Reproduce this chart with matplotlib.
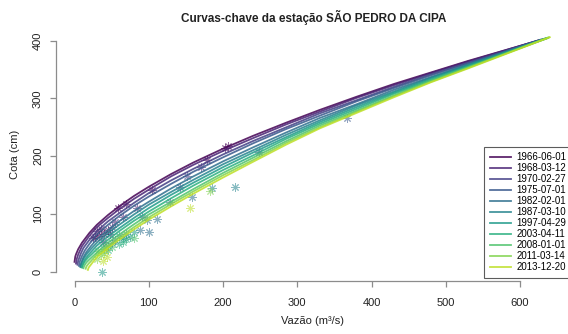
import numpy as np
import matplotlib
matplotlib.use('Agg')
import matplotlib.pyplot as plt

plt.rcParams['font.family'] = ['Liberation Sans', 'DejaVu Sans']

# Rating curve dates (legend)
dates = ['1966-06-01', '1968-03-12', '1970-02-27', '1975-07-01', '1982-02-01',
         '1987-03-10', '1997-04-29', '2003-04-11', '2008-01-01', '2011-03-14',
         '2013-12-20']

# Curves: low-flow part (each curve starts elsewhere)
low_q = [
    [0, 1, 2, 5, 10, 20],
    [2, 3, 5, 10, 20],
    [4, 5, 8, 12, 20],
    [6, 7, 10, 14, 20],
    [8, 9, 12, 16, 22],
    [8, 9, 12, 16, 22],
    [10, 11, 14, 18, 23],
    [10, 11, 14, 18, 23],
    [12, 13, 16, 20, 25],
    [15, 16, 19, 22, 26],
    [18, 19, 22, 25, 27],
]
low_h = [
    [17, 26, 30, 39, 50, 67],
    [14, 22, 30, 44, 62],
    [12, 19, 30, 41, 55],
    [10, 17, 27, 37, 48],
    [9, 15, 25, 34, 44],
    [8, 13, 22, 30, 39],
    [8, 13, 21, 28, 35],
    [7, 11, 18, 24, 30],
    [6, 10, 16, 21, 27],
    [5, 9, 14, 18, 24],
    [3, 7, 12, 17, 20],
]
# common discharge grid (m3/s) and stage (cm) of each curve on it
grid_q = [30, 45, 60, 80, 100, 130, 160, 200, 240, 285, 330, 380, 430, 480, 530]
grid_h = [
    [81, 98, 113, 131, 147, 169, 189, 213, 235, 258, 280, 303, 325, 345, 365],
    [77, 93, 108, 126, 142, 165, 185, 209, 231, 255, 277, 301, 323, 344, 364],
    [70, 87, 101, 119, 136, 158, 178, 203, 226, 250, 274, 297, 320, 342, 362],
    [64, 81, 96, 114, 130, 152, 173, 198, 222, 247, 270, 295, 318, 340, 361],
    [56, 72, 87, 105, 121, 144, 165, 191, 215, 241, 266, 290, 315, 337, 359],
    [50, 67, 81, 99, 116, 138, 159, 186, 210, 237, 262, 288, 312, 336, 358],
    [45, 61, 75, 93, 110, 133, 154, 181, 206, 233, 259, 285, 310, 334, 357],
    [39, 55, 70, 88, 104, 127, 149, 176, 201, 230, 256, 282, 308, 332, 355],
    [33, 50, 64, 82, 99, 121, 143, 171, 197, 226, 253, 279, 305, 331, 354],
    [29, 45, 59, 77, 94, 117, 139, 167, 193, 223, 250, 277, 304, 329, 353],
    [25, 41, 55, 73, 90, 113, 135, 163, 190, 220, 248, 275, 302, 328, 352],
]
end_q = [624, 626, 628, 630, 632, 634, 636, 637, 638, 639, 640]
end_h = [400, 401, 402, 402, 403, 404, 404, 405, 405, 406, 406]

# Gaugings (measured points), grouped by curve
obs_q = [
    [203, 207, 178, 104, 59, 70, 30, 35, 40, 45, 28, 25, 33],
    [171, 84, 50, 55, 38, 48, 65],
    [151, 142, 248],
    [367, 129, 91],
    [158, 97, 100, 88, 111, 50, 55, 45],
    [185, 216, 60, 65, 70, 40],
    [37, 75, 80],
    [60, 65, 70, 45],
    [50, 80],
    [183, 30, 35, 40, 32],
    [156, 44, 38, 42],
]
obs_h = [
    [214, 217, 194, 142, 110, 118, 70, 74, 66, 72, 60, 58, 62],
    [182, 110, 78, 86, 52, 65, 95],
    [165, 147, 208],
    [266, 121, 95],
    [130, 90, 69, 72, 92, 50, 55, 45],
    [145, 147, 62, 58, 65, 40],
    [0, 60, 68],
    [48, 52, 56, 38],
    [42, 58],
    [139, 22, 28, 33, 35],
    [110, 26, 18, 40],
]

colors = plt.cm.viridis(np.linspace(0, 0.9, len(dates)))

fig = plt.figure(figsize=(5.68, 3.34), dpi=100)
ax = fig.add_axes([55.5 / 568, 1 - 281 / 334, 513.3 / 568, 253 / 334])

for i, d in enumerate(dates):
    ax.plot(obs_q[i], obs_h[i], linestyle='none', marker=(8, 2, 0),
            markersize=6, markeredgewidth=0.7, color=colors[i], alpha=0.55)
for i, d in enumerate(dates):
    q = low_q[i] + grid_q + [end_q[i]]
    h = low_h[i] + grid_h[i] + [end_h[i]]
    ax.plot(q, h, color=colors[i], lw=1.3, alpha=0.85, label=d,
            solid_joinstyle='round')

ax.set_xlim(-25.6, 665.6)
ax.set_ylim(-16.2, 422)
ax.set_xticks(np.arange(0, 700, 100))
ax.set_yticks(np.arange(0, 500, 100))
for s in ['top', 'right']:
    ax.spines[s].set_visible(False)
ax.spines['bottom'].set_bounds(0, 600)
ax.spines['left'].set_bounds(0, 400)
for s in ['bottom', 'left']:
    ax.spines[s].set_color('#8c8c8c')
    ax.spines[s].set_linewidth(0.9)
ax.tick_params(direction='out', length=4, width=0.9, color='#8c8c8c',
               labelsize=8, labelcolor='#222222', pad=8)
ax.tick_params(axis='y', labelrotation=90, pad=5)
for lab in ax.get_yticklabels():
    lab.set_va('center')

ax.set_xlabel('Vazão (m³/s)', fontsize=8, color='#222222', labelpad=6)
ax.set_ylabel('Cota (cm)', fontsize=8, color='#222222', labelpad=9)
fig.text(314 / 568, 1 - 17 / 334, 'Curvas-chave da estação SÃO PEDRO DA CIPA',
         ha='center', va='center', fontsize=8.5, fontweight='bold',
         color='#222222')

leg = ax.legend(loc='lower left', bbox_to_anchor=(484 / 568, 1 - 278 / 334),
                bbox_transform=fig.transFigure, fontsize=7, frameon=True,
                fancybox=False, handlelength=2.2, handletextpad=0.5,
                labelspacing=0.1, borderpad=0.6, borderaxespad=0)
leg.get_frame().set_edgecolor('#333333')
leg.get_frame().set_linewidth(0.8)

fig.savefig('out.png', dpi=100)
